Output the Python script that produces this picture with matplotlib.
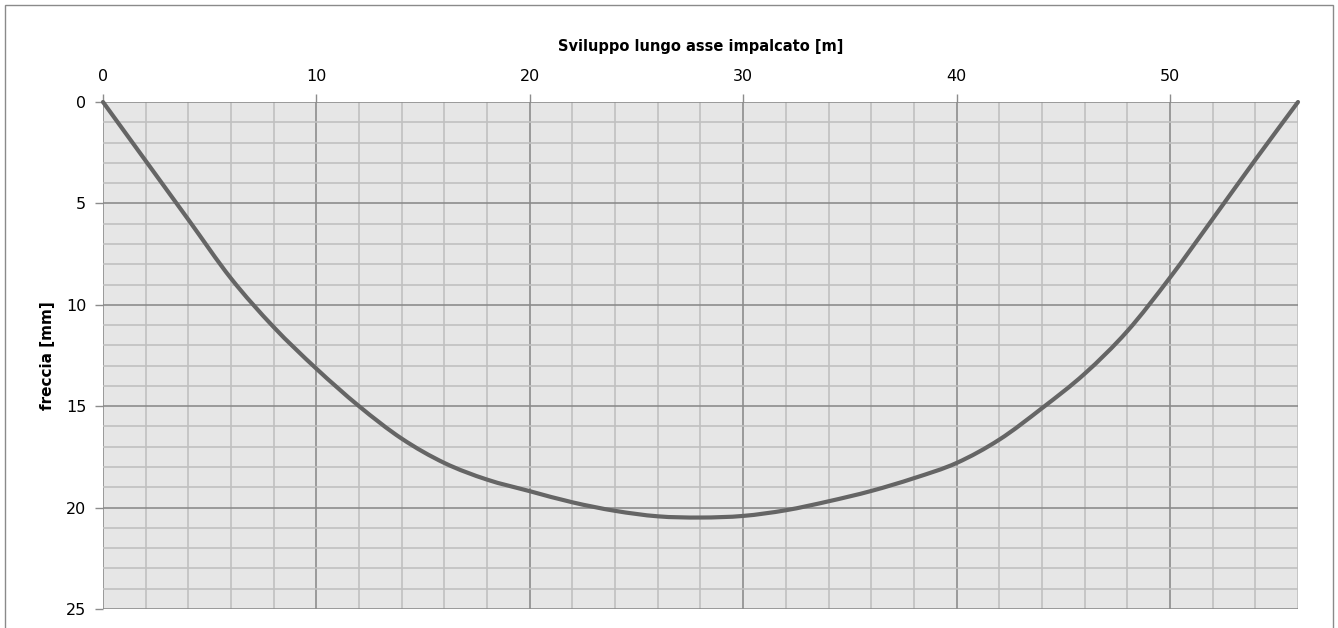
import matplotlib.pyplot as plt
from matplotlib.patches import Rectangle, PathPatch
from matplotlib.path import Path
import numpy as np

# progressive along the deck axis [m] and deflection [mm]
sviluppo = [0, 2, 4, 6, 8, 10, 12, 14, 16, 18, 20, 22, 24, 26, 28,
            30, 32, 34, 36, 38, 40, 42, 44, 46, 48, 50, 52, 54, 56]
freccia = [0.0, 2.9, 5.8, 8.7, 11.1, 13.15, 15.0, 16.6, 17.8, 18.62, 19.19, 19.74, 20.16, 20.43, 20.49,
           20.41, 20.13, 19.69, 19.18, 18.55, 17.8, 16.65, 15.1, 13.4, 11.3, 8.66, 5.77, 2.85, 0.0]

x_ticks = [0, 10, 20, 30, 40, 50]
y_ticks = [0, 5, 10, 15, 20, 25]

fig = plt.figure(figsize=(13.38, 6.28), dpi=100)
fig.patch.set_facecolor("white")
ax = fig.add_axes([103 / 1338, 1 - 609 / 628, (1298 - 103) / 1338, (609 - 102) / 628])
ax.set_facecolor("#e6e6e6")

ax.set_xlim(0, 56)
ax.set_ylim(25, 0)

ax.set_xticks(np.arange(0, 57, 2), minor=True)
ax.set_yticks(np.arange(0, 26, 1), minor=True)
ax.set_xticks(x_ticks)
ax.set_yticks(y_ticks)
ax.grid(which="minor", color="#c0c0c0", lw=1.2)
ax.grid(which="major", color="#8c8c8c", lw=1.2)
ax.set_axisbelow(True)

ax.xaxis.tick_top()
ax.xaxis.set_label_position("top")
ax.tick_params(which="major", length=6, width=1, color="#8c8c8c", labelsize=11.5)
ax.tick_params(axis="x", which="major", pad=7)
ax.tick_params(axis="y", which="major", pad=6)
ax.tick_params(which="minor", length=0)
for s in ax.spines.values():
    s.set_visible(False)

# smoothed line like excel (bezier through the data points)
pts = np.column_stack([sviluppo, freccia])
verts = [pts[0]]
codes = [Path.MOVETO]
for i in range(len(pts) - 1):
    p0 = pts[max(i - 1, 0)]
    p1 = pts[i]
    p2 = pts[i + 1]
    p3 = pts[min(i + 2, len(pts) - 1)]
    verts += [p1 + (p2 - p0) / 6, p2 - (p3 - p1) / 6, p2]
    codes += [Path.CURVE4] * 3
ax.add_patch(PathPatch(Path(verts, codes), fill=False, edgecolor="#656565", lw=3,
                       capstyle="round", clip_on=False, zorder=3))

ax.set_xlabel("Sviluppo lungo asse impalcato [m]", fontsize=10.5, fontweight="bold", labelpad=13)
ax.set_ylabel("freccia [mm]", fontsize=11, fontweight="bold", labelpad=8)

fig.patches.append(Rectangle((5 / 1338, -0.1), (1333 - 5) / 1338, 1.1 - 5 / 628,
                             transform=fig.transFigure, fill=False, edgecolor="#8a8a8a", lw=1))

fig.savefig("out.png", dpi=100)
